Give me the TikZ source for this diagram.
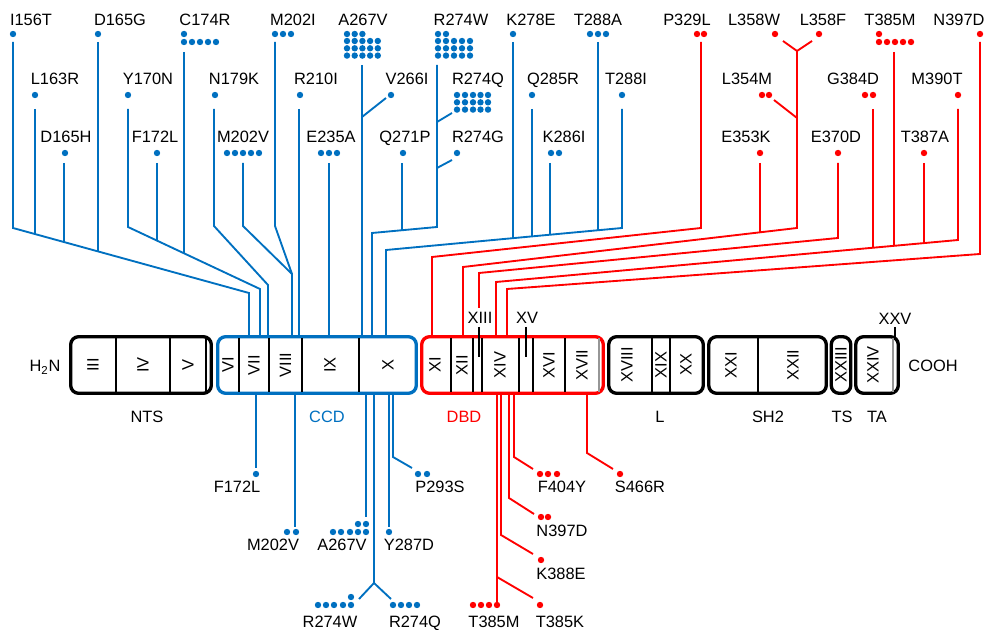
\documentclass[tikz,border=0pt]{standalone}
\usepackage{fontspec}
\setmainfont{Liberation Sans}
\usetikzlibrary{calc}
\definecolor{ccdBlue}{RGB}{0,112,192}
\definecolor{dbdRed}{RGB}{255,0,0}
\definecolor{tickGray}{RGB}{150,150,150}
\newcommand{\DotGrid}[3]{\foreach \gy in {#3}{\foreach \gx in {#2}{\fill[#1] (\gx,\gy) circle[radius=2.4pt];}}}
\newcommand{\ExonCut}[1]{\draw[line width=0.8pt] (#1,338) -- (#1,392);}
\tikzset{
  mut/.style={font=\fontsize{12.3}{14}\selectfont,anchor=base,inner sep=0pt},
  exon/.style={font=\fontsize{12.3}{14}\selectfont,rotate=90,inner sep=0pt},
  ccdLine/.style={line width=1.4pt,draw=ccdBlue},
  dbdLine/.style={line width=1.4pt,draw=dbdRed},
  domainbox/.style={line width=2.5pt,rounded corners=6pt,fill=white},
}
\begin{document}
\begin{tikzpicture}[x=0.75pt,y=-0.75pt]
\useasboundingbox (0,0) rectangle (985,630);

\node[mut] (upI156T) at (31,26) {I156T};
\node[mut] (upL163R) at (55,85) {L163R};
\node[mut] (upD165H) at (66,143) {D165H};
\node[mut] (upD165G) at (120,26) {D165G};
\node[mut] (upY170N) at (148,85) {Y170N};
\node[mut] (upF172L) at (155,143) {F172L};
\node[mut] (upC174R) at (205,26) {C174R};
\node[mut] (upN179K) at (234,85) {N179K};
\node[mut] (upM202V) at (243,143) {M202V};
\node[mut] (upM202I) at (293,26) {M202I};
\node[mut] (upR210I) at (316,85) {R210I};
\node[mut] (upE235A) at (331,143) {E235A};
\node[mut] (upA267V) at (363,26) {A267V};
\node[mut] (upV266I) at (407,85) {V266I};
\node[mut] (upR274W) at (461,26) {R274W};
\node[mut] (upR274Q) at (478,85) {R274Q};
\node[mut] (upQ271P) at (405,143) {Q271P};
\node[mut] (upR274G) at (478,143) {R274G};
\node[mut] (upK278E) at (531,26) {K278E};
\node[mut] (upQ285R) at (553,85) {Q285R};
\node[mut] (upK286I) at (564,143) {K286I};
\node[mut] (upT288A) at (598,26) {T288A};
\node[mut] (upT288I) at (626,85) {T288I};

\DotGrid{ccdBlue}{13,98,184}{34}
\DotGrid{ccdBlue}{184,192,200,208,216}{42}
\DotGrid{ccdBlue}{35,128,215,300}{95}
\DotGrid{ccdBlue}{65,157}{153}
\DotGrid{ccdBlue}{227,235,243,251,259}{153}
\DotGrid{ccdBlue}{275,283,291}{34}
\DotGrid{ccdBlue}{321,329,337}{153}
\DotGrid{ccdBlue}{347,354.7,362.4}{34}
\DotGrid{ccdBlue}{347,354.7,362.4,370.1,377.8}{41,48.3,55.6}
\DotGrid{ccdBlue}{391}{95}
\DotGrid{ccdBlue}{438,446}{34}
\DotGrid{ccdBlue}{438,446,454,462,470}{41,48.3,55.6}
\DotGrid{ccdBlue}{457,465,473,480.5,488}{95,102.3,109.6}
\DotGrid{ccdBlue}{403,457}{153}
\DotGrid{ccdBlue}{513}{34}
\DotGrid{ccdBlue}{532,622}{95}
\DotGrid{ccdBlue}{551,559}{153}
\DotGrid{ccdBlue}{590,598,606}{34}

\draw[ccdLine] (13,42) -- (13,228) -- (249,293) -- (249,335);
\draw[ccdLine] (35,109) -- (35,234.1);
\draw[ccdLine] (64,163) -- (64,242);
\draw[ccdLine] (98,42) -- (98,251.4);
\draw[ccdLine] (128,109) -- (128,227) -- (260,289) -- (260,335);
\draw[ccdLine] (157,163) -- (157,240.6);
\draw[ccdLine] (184,52) -- (184,253.3);
\draw[ccdLine] (214,109) -- (214,226) -- (268,285) -- (268,335);
\draw[ccdLine] (243,163) -- (243,226) -- (292,274) -- (292,335);
\draw[ccdLine] (275,42) -- (275,226) -- (292,274);
\draw[ccdLine] (299,109) -- (299,335);
\draw[ccdLine] (329,163) -- (329,335);
\draw[ccdLine] (362,65) -- (362,335);
\draw[ccdLine] (386,98) -- (362,117);
\draw[ccdLine] (437,65) -- (437,227) -- (372,233) -- (372,335);
\draw[ccdLine] (452,113) -- (437,122);
\draw[ccdLine] (452,160) -- (437,168);
\draw[ccdLine] (402,163) -- (402,230.2);
\draw[ccdLine] (622,109) -- (622,228) -- (386,250) -- (386,335);
\draw[ccdLine] (598,42) -- (598,230.2);
\draw[ccdLine] (550,163) -- (550,234.7);
\draw[ccdLine] (532,109) -- (532,236.4);
\draw[ccdLine] (513,42) -- (513,238.2);

\node[mut] (upP329L) at (687,26) {P329L};
\node[mut] (upL358W) at (754,26) {L358W};
\node[mut] (upL358F) at (823,26) {L358F};
\node[mut] (upL354M) at (747,85) {L354M};
\node[mut] (upE353K) at (746,143) {E353K};
\node[mut] (upE370D) at (836,143) {E370D};
\node[mut] (upG384D) at (853,85) {G384D};
\node[mut] (upT385M) at (890,26) {T385M};
\node[mut] (upT387A) at (925,143) {T387A};
\node[mut] (upM390T) at (937,85) {M390T};
\node[mut] (upN397D) at (959,26) {N397D};

\DotGrid{dbdRed}{697,704,775,819,879,980}{34}
\DotGrid{dbdRed}{879,887,895,903,911}{42}
\DotGrid{dbdRed}{762,769,865,873,958}{95}
\DotGrid{dbdRed}{760,838,924}{153}

\draw[dbdLine] (701,42) -- (701,228) -- (432,257) -- (432,335);
\draw[dbdLine] (783,41) -- (797,51) -- (812,41);
\draw[dbdLine] (797,51) -- (797,228) -- (463,267) -- (463,335);
\draw[dbdLine] (774,100) -- (797,118);
\draw[dbdLine] (760,163) -- (760,232.3);
\draw[dbdLine] (838,163) -- (838,238) -- (479,273) -- (479,308);
\draw[dbdLine] (958,109) -- (958,240) -- (496,282) -- (496,335);
\draw[dbdLine] (873,109) -- (873,247.7);
\draw[dbdLine] (894,52) -- (894,245.8);
\draw[dbdLine] (924,163) -- (924,243.1);
\draw[dbdLine] (980,42) -- (980,254) -- (507,289) -- (507,335);

\draw[ccdLine] (256,395) -- (256,468);
\draw[ccdLine] (295,395) -- (295,527);
\draw[ccdLine] (366,395) -- (366,517);
\draw[ccdLine] (374,395) -- (374,583) -- (359,599);
\draw[ccdLine] (374,583) -- (391,599);
\draw[ccdLine] (389,395) -- (389,527);
\draw[ccdLine] (393,395) -- (393,457) -- (412,468);
\DotGrid{ccdBlue}{256,418,427}{474}
\DotGrid{ccdBlue}{287,296,389}{532}
\DotGrid{ccdBlue}{358,366}{524}
\DotGrid{ccdBlue}{333,341,350,358,366}{532}
\DotGrid{ccdBlue}{351}{597}
\DotGrid{ccdBlue}{318,326,334,343,351,393,401,409,417}{605}
\node[mut] (lowF172L) at (237,493) {F172L};
\node[mut] (lowM202V) at (273,551) {M202V};
\node[mut] (lowA267V) at (342,551) {A267V};
\node[mut] (lowY287D) at (409,551) {Y287D};
\node[mut] (lowP293S) at (440,493) {P293S};
\node[mut] (lowR274W) at (330,627) {R274W};
\node[mut] (lowR274Q) at (415,627) {R274Q};

\draw[dbdLine] (514,395) -- (514,457) -- (533,469);
\draw[dbdLine] (587,395) -- (587,453) -- (613,469);
\draw[dbdLine] (509,395) -- (509,498) -- (534,514);
\draw[dbdLine] (501,395) -- (501,535) -- (533,554);
\draw[dbdLine] (497,395) -- (497,604);
\draw[dbdLine] (497,577) -- (533,598);
\DotGrid{dbdRed}{540,548,557,620}{474}
\DotGrid{dbdRed}{541,548}{517}
\DotGrid{dbdRed}{541}{560}
\DotGrid{dbdRed}{473,481,489,497,540}{605}
\node[mut] (lowF404Y) at (562,493) {F404Y};
\node[mut] (lowS466R) at (640,493) {S466R};
\node[mut] (lowN397D) at (562,537) {N397D};
\node[mut] (lowK388E) at (561,579) {K388E};
\node[mut] (lowT385M) at (494,627) {T385M};
\node[mut] (lowT385K) at (560,627) {T385K};

\draw[domainbox] (70.7,336.7) rectangle (211.3,393.3);
\draw[domainbox,draw=ccdBlue] (217.7,336.7) rectangle (416.3,393.3);
\draw[domainbox,draw=dbdRed] (421.7,336.7) rectangle (603.3,393.3);
\draw[domainbox] (608.7,336.7) rectangle (703.3,393.3);
\draw[domainbox] (708.7,336.7) rectangle (826.3,393.3);
\draw[domainbox] (831.2,336.7) rectangle (850.8,393.3);
\draw[domainbox] (855.7,336.7) rectangle (898.3,393.3);
\foreach \cx in {116,170,206,239,269,302,359,451,473,482,519,533,565,652,670,758} {\ExonCut{\cx}}
\draw[line width=0.8pt,tickGray] (599,338) -- (599,392);
\draw[line width=0.8pt,tickGray] (893,338) -- (893,392);
\draw[line width=1.8pt,tickGray] (893,340) -- (893,363);

\foreach \ex/\en in {93/III,143/IV,188/V,228/VI,254/VII,285.5/VIII,330/IX,388/X,435/XI,462/XII,500/XIV,549/XVI,582/XVII,627/XVIII,661/XIX,686/XX,731/XXI,793/XXII,841/XXIII,873/XXIV}
  \node[exon] (ex\en) at (\ex,365) {\en};

\draw[line width=1.2pt] (479,327) -- (479,357);
\draw[line width=1.2pt] (526,327) -- (526,357);
\draw[line width=1pt] (895,327) -- (895,340);
\node[mut] (exXIII) at (480,324) {XIII};
\node[mut] (exXV) at (527,324) {XV};
\node[mut] (exXXV) at (895,325) {XXV};

\node[mut] (nterm) at (45,372) {H\textsubscript{2}N};
\node[mut] (cterm) at (933,372) {COOH};

\node[mut] (dNTS) at (147,423) {NTS};
\node[mut,text=ccdBlue] (dCCD) at (327,423) {CCD};
\node[mut,text=dbdRed] (dDBD) at (464,423) {DBD};
\node[mut] (dL) at (660,423) {L};
\node[mut] (dSH2) at (768,423) {SH2};
\node[mut] (dTS) at (842,423) {TS};
\node[mut] (dTA) at (877,423) {TA};
\end{tikzpicture}
\end{document}
